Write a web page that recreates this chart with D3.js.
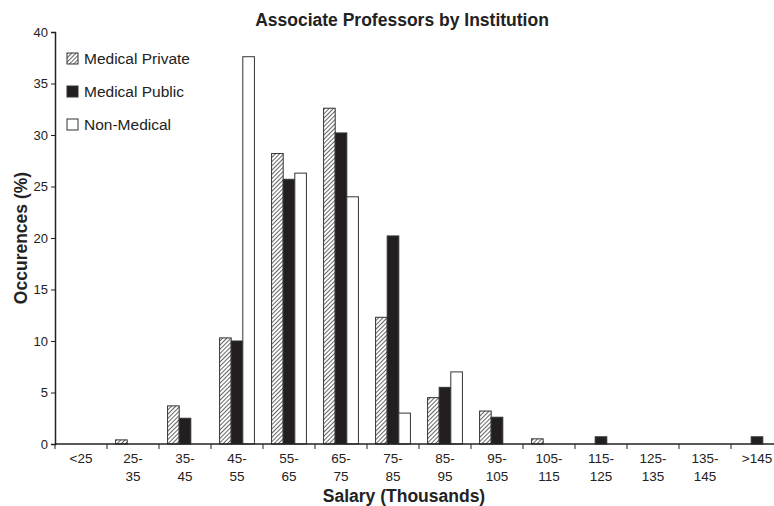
<!DOCTYPE html>
<html>
<head>
<meta charset="utf-8">
<script src="https://cdn.jsdelivr.net/npm/d3@7"></script>
<style>
  body { margin: 0; background: #fff; }
  svg { display: block; font-family: "Liberation Sans", Arial, sans-serif; }
</style>
</head>
<body>
<div class="chart"></div>
<script>
// salary bands (thousands)
const categories = ["<25", "25-35", "35-45", "45-55", "55-65", "65-75", "75-85",
    "85-95", "95-105", "105-115", "115-125", "125-135", "135-145", ">145"];
const seriesNames = ["Medical Private", "Medical Public", "Non-Medical"];

// occurences (%)
const medicalPrivate = [0, 0.4, 3.7, 10.3, 28.2, 32.6, 12.3, 4.5, 3.2, 0.5, 0, 0, 0, 0];
const medicalPublic  = [0, 0, 2.5, 10.0, 25.7, 30.2, 20.2, 5.5, 2.6, 0, 0.7, 0, 0, 0.7];
const nonMedical     = [0, 0, 0, 37.6, 26.3, 24.0, 3.0, 7.0, 0, 0, 0, 0, 0, 0];
const yTicks = [0, 5, 10, 15, 20, 25, 30, 35, 40];

const width = 774;
const height = 506;
const margin = {top: 32, right: -9, bottom: 62, left: 55};

const svg = d3.select(".chart")
    .append("svg")
    .attr("width", width)
    .attr("height", height);

// hatch for the private series
const defs = svg.append("defs");
const pat = defs.append("pattern")
    .attr("id", "hatch")
    .attr("patternUnits", "userSpaceOnUse")
    .attr("width", 3)
    .attr("height", 3)
    .attr("patternTransform", "rotate(45)");
pat.append("rect").attr("width", 3).attr("height", 3).attr("fill", "#fff");
pat.append("line")
    .attr("x1", 0).attr("y1", 0).attr("x2", 0).attr("y2", 3)
    .attr("stroke", "#222").attr("stroke-width", 1.4);

const fills = ["url(#hatch)", "#231f20", "#fff"];

const x0 = d3.scaleBand()
    .domain(categories)
    .range([margin.left, width - margin.right])
    .paddingInner(0.33)
    .paddingOuter(0.165);

const x1 = d3.scaleBand()
    .domain(d3.range(3))
    .range([0, x0.bandwidth()]);

const y = d3.scaleLinear()
    .domain([0, 40])
    .range([height - margin.bottom, margin.top]);

// build bar records from the series arrays
const seriesValues = [medicalPrivate, medicalPublic, nonMedical];
const bars = [];
categories.forEach((c, i) => {
    seriesValues.forEach((s, k) => {
        if (s[i] > 0) {
            bars.push({cat: c, series: k, value: s[i]});
        }
    });
});

svg.selectAll(".bar")
    .data(bars)
    .enter()
    .append("rect")
    .attr("class", "bar")
    .attr("x", d => x0(d.cat) + x1(d.series))
    .attr("y", d => y(d.value))
    .attr("width", x1.bandwidth())
    .attr("height", d => y(0) - y(d.value))
    .attr("fill", d => fills[d.series])
    .attr("stroke", "#333")
    .attr("stroke-width", 1);

// y axis
const yAxis = svg.append("g")
    .attr("transform", `translate(${margin.left},0)`)
    .call(d3.axisLeft(y).tickValues(yTicks).tickSize(4).tickPadding(3));
yAxis.select(".domain").attr("stroke", "#222").attr("stroke-width", 1.5);
yAxis.selectAll(".tick line").attr("stroke", "#222");
yAxis.selectAll(".tick text").attr("font-size", 13).attr("fill", "#222")
    .attr("font-family", "Liberation Sans, Arial, sans-serif");

// x axis: ticks sit on band boundaries
const step = x0.step();
const bounds = d3.range(categories.length + 1).map(i => margin.left + i * step);
const xg = svg.append("g");
xg.append("line")
    .attr("x1", margin.left).attr("x2", width)
    .attr("y1", y(0)).attr("y2", y(0))
    .attr("stroke", "#222").attr("stroke-width", 1.5);
xg.selectAll(".xtick")
    .data(bounds)
    .enter()
    .append("line")
    .attr("class", "xtick")
    .attr("x1", d => d).attr("x2", d => d)
    .attr("y1", y(0)).attr("y2", y(0) + 5)
    .attr("stroke", "#222");

const xLabels = xg.selectAll(".xlabel")
    .data(categories)
    .enter()
    .append("text")
    .attr("class", "xlabel")
    .attr("font-size", 13.5)
    .attr("fill", "#222")
    .attr("text-anchor", "middle");
xLabels.each(function(c) {
    const parts = c.includes("-") ? [c.split("-")[0] + "-", c.split("-")[1]] : [c];
    const cx = x0(c) + x0.bandwidth() / 2;
    d3.select(this).selectAll("tspan")
        .data(parts)
        .enter()
        .append("tspan")
        .attr("x", cx)
        .attr("y", (d, i) => y(0) + 19 + i * 17.5)
        .text(d => d);
});

// title and axis titles
svg.append("text")
    .attr("x", 402).attr("y", 26)
    .attr("text-anchor", "middle")
    .attr("font-size", 17.5).attr("font-weight", "bold").attr("fill", "#222")
    .text("Associate Professors by Institution");

svg.append("text")
    .attr("x", 404).attr("y", 502)
    .attr("text-anchor", "middle")
    .attr("font-size", 17.5).attr("font-weight", "bold").attr("fill", "#222")
    .text("Salary (Thousands)");

svg.append("text")
    .attr("transform", `translate(27,${(margin.top + y(0)) / 2}) rotate(-90)`)
    .attr("text-anchor", "middle")
    .attr("font-size", 17.5).attr("font-weight", "bold").attr("fill", "#222")
    .text("Occurences (%)");

// legend
const legend = svg.selectAll(".legend")
    .data(seriesNames)
    .enter()
    .append("g")
    .attr("class", "legend")
    .attr("transform", (d, i) => `translate(67,${53 + i * 33})`);
legend.append("rect")
    .attr("width", 11).attr("height", 11)
    .attr("fill", (d, i) => fills[i])
    .attr("stroke", "#333");
legend.append("text")
    .attr("x", 17).attr("y", 11)
    .attr("font-size", 15.5).attr("fill", "#222")
    .text(d => d);
</script>
</body>
</html>
